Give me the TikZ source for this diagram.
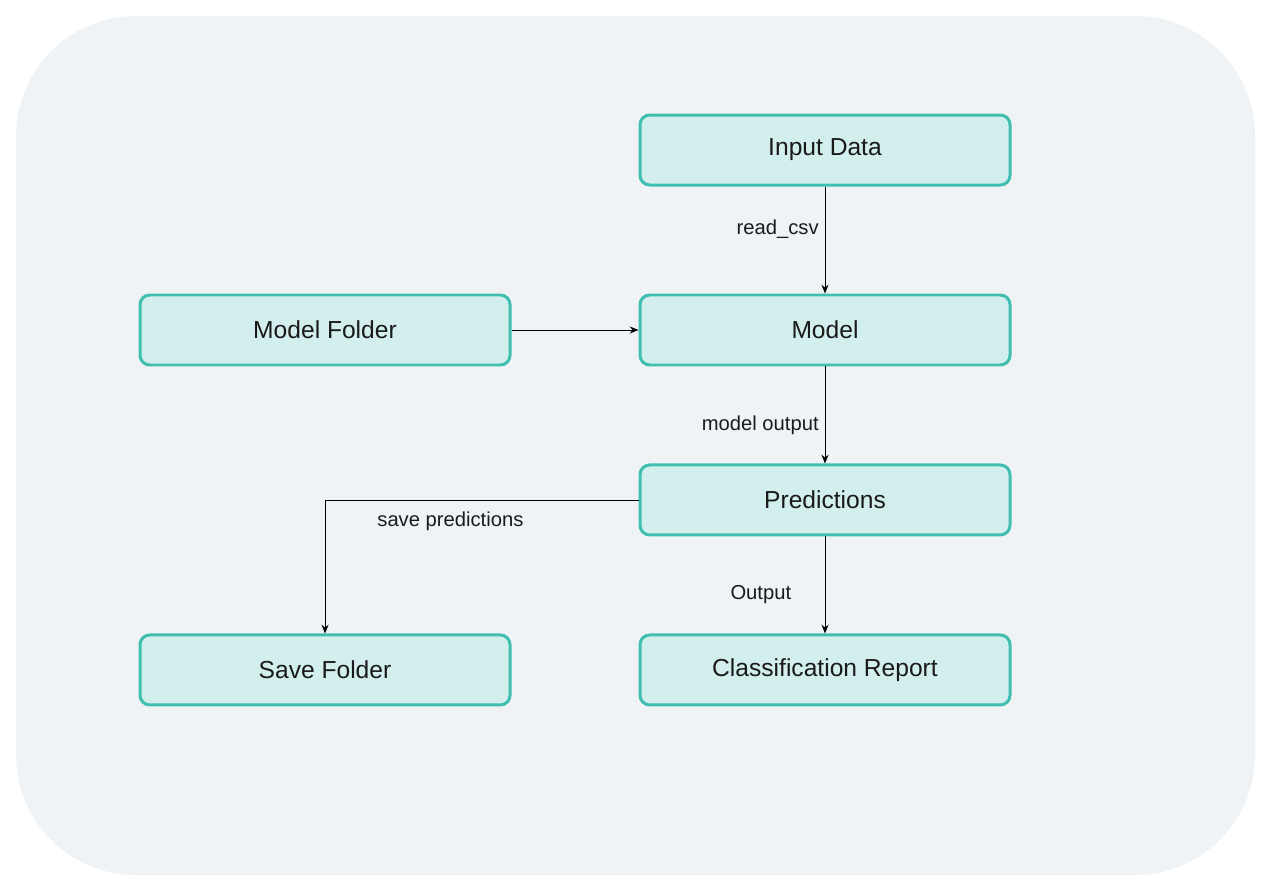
\documentclass[tikz,border=0pt]{standalone}
\usepackage{fontspec}
\setmainfont{Liberation Sans}
\usetikzlibrary{positioning}
\usetikzlibrary{arrows.meta}
\definecolor{bgpanel}{HTML}{EFF3F6}
\definecolor{boxfill}{HTML}{D2EFED}
\definecolor{boxline}{HTML}{40BFB1}
\definecolor{inkcol}{HTML}{1A1A1A}
\tikzset{
stagebox/.style={
  draw=boxline,fill=boxfill,line width=1.7pt,rounded corners=5.5pt,
  minimum width=7.4cm,minimum height=1.4cm,text=inkcol,font=\fontsize{14}{16}\selectfont},
flow/.style={
  draw=black,line width=0.55pt,-{Stealth[length=5pt,width=4pt]}},
flowlabel/.style={
  text=inkcol,font=\fontsize{11.5}{13}\selectfont}
}
\begin{document}
\begin{tikzpicture}
\useasboundingbox (0,0) rectangle (25.4,-17.8);
\fill[bgpanel,rounded corners=2.4cm] (0.32,-0.32) rectangle (25.1,-17.5);

\node[stagebox](inputData) at (16.5,-3.0){Input Data};
\node[stagebox,below=2.14cm of inputData](model){Model};
\node[stagebox,left=2.54cm of model](modelFolder){Model Folder};
\node[stagebox,below=1.94cm of model](predictions){Predictions};
\node[stagebox,below=1.94cm of predictions](classReport){Classification Report};
\node[stagebox,left=2.54cm of classReport](saveFolder){Save Folder};

\path[flow](inputData)edge node[flowlabel,pos=0.4,left=0pt]{read\_csv} (model);
\path[flow](modelFolder)edge (model);
\path[flow](model)edge node[flowlabel,pos=0.61,left=0pt]{model output} (predictions);
\path[flow](predictions)edge node[flowlabel,pos=0.6,left=0.55cm]{Output} (classReport);
\draw[flow](predictions) -| node[flowlabel,pos=0.3,below=3pt]{save predictions} (saveFolder);

\end{tikzpicture}
\end{document}
